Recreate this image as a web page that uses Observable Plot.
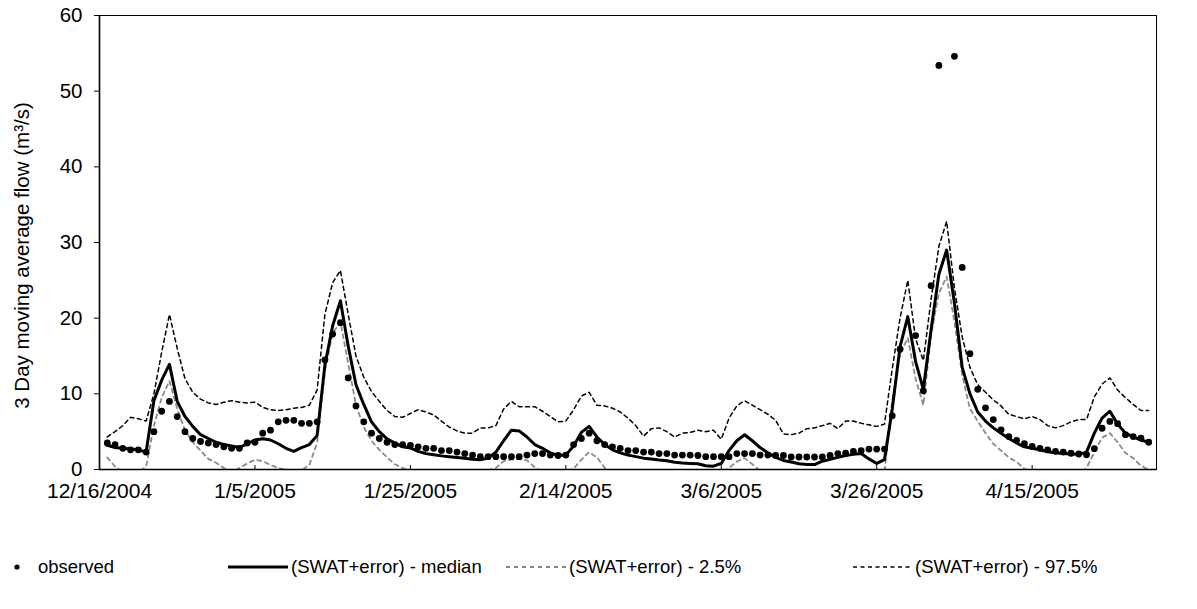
<!DOCTYPE html>
<html>
<head>
<meta charset="utf-8">
<script src="https://cdn.jsdelivr.net/npm/d3@7"></script>
<script src="https://cdn.jsdelivr.net/npm/@observablehq/plot@0.6"></script>
<style>
  body { margin: 0; background: #fff; font-family: "Liberation Sans", Arial, sans-serif; }
  #wrap { position: relative; width: 1197px; height: 609px; background: #fff; }
  #legend { position: absolute; left: 0; top: 520px; width: 1197px; height: 89px; }
  #legend .lbl { position: absolute; top: 37px; font-size: 18.5px; line-height: 20px; color: #000; white-space: nowrap; }
  #legend svg.sw { position: absolute; top: 37px; overflow: visible; }
</style>
</head>
<body>
<div id="wrap">
  <div id="chart"></div>
  <div id="legend"></div>
</div>
<script>
// ---- data (daily, starting 12/17/2004) ----
const startDate = "2004-12-16";
const endDate = "2005-05-01";
const xTickLabels = ["12/16/2004", "1/5/2005", "1/25/2005", "2/14/2005", "3/6/2005", "3/26/2005", "4/15/2005"];
const yTicks = [0, 10, 20, 30, 40, 50, 60];
const yLabel = "3 Day moving average flow (m³/s)";
const seriesNames = ["observed", "(SWAT+error) - median", "(SWAT+error) - 2.5%", "(SWAT+error) - 97.5%"];

const observed = [
  3.5, 3.3, 2.8, 2.6, 2.6, 2.3, 5.0, 7.7, 9.0, 7.0,
  5.0, 4.1, 3.7, 3.5, 3.3, 3.0, 2.8, 2.8, 3.5, 3.6,
  4.8, 5.2, 6.3, 6.5, 6.5, 6.1, 6.1, 6.3, 14.5, 17.9,
  19.4, 12.1, 8.4, 6.3, 4.8, 4.1, 3.6, 3.3, 3.3, 3.2,
  3.0, 2.8, 2.8, 2.5, 2.5, 2.3, 2.1, 1.9, 1.7, 1.7,
  1.7, 1.7, 1.7, 1.7, 1.9, 2.1, 2.1, 1.9, 1.85, 1.9,
  3.3, 4.1, 4.8, 3.8, 3.3, 3.0, 2.8, 2.5, 2.5, 2.3,
  2.3, 2.1, 2.1, 1.9, 1.9, 1.9, 1.85, 1.7, 1.7, 1.7,
  1.7, 2.1, 2.1, 2.1, 1.9, 1.9, 1.85, 1.85, 1.65, 1.65,
  1.65, 1.65, 1.65, 1.85, 2.1, 2.15, 2.4, 2.5, 2.7, 2.7,
  2.7, 7.1, 15.9, null, 17.7, 10.4, 24.3, 53.4, null, 54.6,
  26.7, 15.3, 10.6, 8.15, 6.6, 5.25, 4.35, 3.85, 3.4, 3.05,
  2.8, 2.6, 2.4, 2.3, 2.15, 2.05, 1.95, 2.75, 5.45, 6.35,
  6.05, 4.6, 4.35, 4.15, 3.6
];

const median = [
  3.2, 2.9, 2.8, 2.7, 2.6, 2.3, 9.1, 11.8, 13.9, 9.0,
  7.0, 5.7, 4.6, 4.1, 3.6, 3.3, 3.1, 2.9, 3.4, 3.9,
  4.05, 3.9, 3.4, 2.8, 2.4, 2.9, 3.3, 4.5, 13.8, 19.0,
  22.3, 16.3, 11.2, 8.6, 6.3, 5.0, 4.05, 3.5, 3.0, 2.85,
  2.4, 2.1, 1.95, 1.8, 1.7, 1.6, 1.5, 1.35, 1.3, 1.5,
  2.3, 3.8, 5.2, 5.1, 4.3, 3.3, 2.8, 2.2, 1.85, 1.9,
  3.1, 4.9, 5.7, 4.3, 3.3, 2.6, 2.2, 1.9, 1.7, 1.5,
  1.4, 1.25, 1.15, 0.95, 0.85, 0.8, 0.75, 0.5, 0.44, 0.8,
  2.5, 3.8, 4.6, 3.8, 2.9, 2.2, 1.6, 1.2, 1.0, 0.75,
  0.66, 0.66, 1.1, 1.35, 1.6, 1.85, 2.0, 2.1, 1.4, 0.8,
  1.3, 8.0, 16.2, 20.2, 14.3, 10.6, 18.5, 25.8, 29.0, 22.0,
  13.5, 10.0, 7.6, 6.4, 5.5, 4.8, 4.1, 3.5, 3.0, 2.8,
  2.6, 2.35, 2.2, 2.1, 2.05, 2.0, 2.3, 4.8, 6.8, 7.7,
  6.0, 4.8, 4.3, 3.9, 3.6
];

const lower = [
  1.6, 0.4, -0.3, -0.4, -0.4, 0.4, 5.8, 9.5, 11.7, 8.0,
  5.2, 3.6, 2.5, 1.4, 0.9, 0.2, -0.3, 0.2, 0.8, 1.3,
  1.1, 0.6, 0.2, 0.0, -0.1, -0.1, 0.6, 3.5, 13.0, 18.0,
  19.5, 14.0, 8.5, 5.6, 3.8, 2.6, 1.6, 0.7, 0.2, -0.2,
  -0.6, -0.8, -0.9, -0.9, -0.8, -0.6, -0.5, -0.3, -0.2, -0.1,
  0.2, 1.1, 1.3, 1.4, 1.2, 0.3, -0.3, -0.6, -0.7, -0.3,
  0.1, 1.3, 2.3, 1.6, 0.2, -0.5, -0.8, -1.0, -1.2, -1.3,
  -1.4, -1.5, -1.6, -1.7, -1.8, -1.8, -1.8, -1.6, -1.2, -0.5,
  0.2, 1.05, 1.5, 0.7, -0.2, -0.8, -1.2, -1.5, -1.7, -1.8,
  -1.8, -1.7, -1.5, -1.3, -1.1, -1.0, -0.9, -0.9, -1.2, -1.2,
  -0.3, 9.2, 15.2, 17.4, 12.0, 8.5, 17.8, 23.3, 25.5, 19.5,
  12.5, 8.0, 6.4, 4.8, 3.4, 2.5, 1.6, 1.0, 0.1, -0.3,
  -0.8, -1.2, -1.4, -1.5, -1.3, -0.8, 0.2, 2.3, 4.2, 4.8,
  3.6, 2.2, 1.5, 0.5, 0.0
];

const upper = [
  4.3, 5.0, 5.8, 6.9, 6.7, 6.4, 10.0, 15.5, 20.5, 16.0,
  12.0, 10.2, 9.3, 8.8, 8.6, 8.9, 9.1, 8.9, 8.8, 8.9,
  8.2, 7.9, 7.8, 7.9, 8.1, 8.2, 8.5, 10.5, 20.5, 24.7,
  26.3, 20.5, 15.0, 12.2, 10.3, 9.0, 7.8, 7.0, 6.9, 7.4,
  7.9, 7.6, 7.2, 6.4, 5.6, 5.1, 4.8, 4.8, 5.5, 5.5,
  5.8, 8.0, 9.0, 8.3, 8.3, 8.3, 7.7, 7.0, 6.3, 6.4,
  7.9, 9.7, 10.2, 8.5, 8.4, 8.1, 7.6, 6.8, 5.8, 4.4,
  5.4, 5.5, 5.0, 4.3, 4.8, 4.9, 5.2, 5.0, 5.2, 4.0,
  6.8, 8.4, 9.1, 8.5, 7.9, 7.3, 6.5, 4.7, 4.6, 4.8,
  5.4, 5.5, 5.8, 6.1, 5.4, 6.4, 6.4, 6.1, 5.9, 5.7,
  6.0, 13.3, 20.0, 25.0, 17.3, 14.4, 22.5, 29.5, 32.8, 24.0,
  17.5, 13.5, 11.2, 10.2, 9.2, 8.4, 7.3, 7.0, 6.7, 7.0,
  6.6, 5.8, 5.5, 5.8, 6.3, 6.6, 6.6, 9.6, 11.3, 12.1,
  10.5, 9.5, 8.6, 7.8, 7.8
];

// ---- build table ----
const parseMDY = s => { const [m, d, y] = s.split("/").map(Number); return new Date(Date.UTC(y, m - 1, d)); };
const x0 = new Date(startDate + "T00:00:00Z");
const x1 = new Date(endDate + "T00:00:00Z");
const xTicks = xTickLabels.map(parseMDY);
const fmt = d => `${d.getUTCMonth() + 1}/${d.getUTCDate()}/${d.getUTCFullYear()}`;
const rows = observed.map((v, i) => ({
  date: d3.utcDay.offset(x0, i + 1),
  observed: v,
  median: median[i],
  lower: lower[i],
  upper: upper[i]
}));

const FONT = "'Liberation Sans', Arial, sans-serif";

const chart = Plot.plot({
  width: 1197,
  height: 520,
  marginLeft: 99,
  marginRight: 41,
  marginTop: 15,
  marginBottom: 51,
  style: { fontFamily: FONT, fontSize: "20px", color: "#000", background: "#fff", overflow: "visible" },
  x: { type: "utc", domain: [x0, x1] },
  y: { domain: [0, 60] },
  marks: [
    Plot.lineY(rows, { x: "date", y: "lower", stroke: "#8a8a8a", strokeWidth: 1.8, strokeDasharray: "4,4", clip: true }),
    Plot.lineY(rows, { x: "date", y: "upper", stroke: "#000", strokeWidth: 1.5, strokeDasharray: "4,3.5" }),
    Plot.lineY(rows, { x: "date", y: "median", stroke: "#000", strokeWidth: 3, strokeLinejoin: "round" }),
    Plot.dot(rows.filter(d => d.observed != null), { x: "date", y: "observed", r: 3.4, fill: "#000", stroke: "none" }),
    Plot.frame({ stroke: "#000", strokeWidth: 1 }),
    Plot.ruleX([x0], { stroke: "#000", strokeWidth: 1.6 }),
    Plot.ruleY([0], { stroke: "#000", strokeWidth: 1.6 }),
    Plot.axisY({ ticks: yTicks, tickSize: 5, tickPadding: 12, fontSize: 20.5, label: null, tickFormat: d => String(d) }),
    Plot.axisX({ ticks: xTicks, tickSize: 0, tickPadding: 14, fontSize: 21, tickFormat: fmt, label: null }),
    Plot.axisX({ anchor: "top", ticks: xTicks, tickSize: 5, dy: 454, tickFormat: () => "", label: null }),
    Plot.text([yLabel], { text: d => d, frameAnchor: "left", textAnchor: "middle", rotate: -90, dx: -77, dy: 13, fontSize: 20.5, fill: "#000" })
  ]
});
document.getElementById("chart").appendChild(chart);

// ---- legend (HTML below the chart) ----
const legend = document.getElementById("legend");
const items = [
  { name: seriesNames[0], sw: `<svg class="sw" width="12" height="20" style="left:11px"><circle cx="6" cy="10" r="2.6" fill="#000"/></svg>`, tx: 38 },
  { name: seriesNames[1], sw: `<svg class="sw" width="60" height="20" style="left:228px"><line x1="0" x2="60" y1="10" y2="10" stroke="#000" stroke-width="3"/></svg>`, tx: 291 },
  { name: seriesNames[2], sw: `<svg class="sw" width="60" height="20" style="left:506px"><line x1="0" x2="60" y1="10" y2="10" stroke="#8a8a8a" stroke-width="1.8" stroke-dasharray="4,4"/></svg>`, tx: 569 },
  { name: seriesNames[3], sw: `<svg class="sw" width="60" height="20" style="left:853px"><line x1="0" x2="60" y1="10" y2="10" stroke="#000" stroke-width="1.5" stroke-dasharray="4,3.5"/></svg>`, tx: 915 }
];
legend.innerHTML = items.map(it => it.sw + `<span class="lbl" style="left:${it.tx}px">${it.name}</span>`).join("");
</script>
</body>
</html>
